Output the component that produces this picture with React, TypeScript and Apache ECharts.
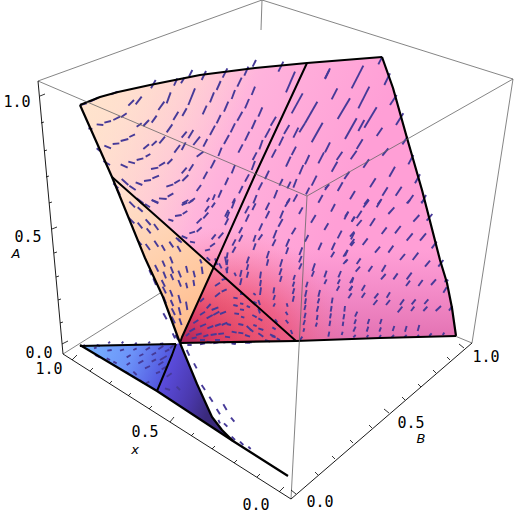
import React, { useEffect, useRef } from "react";
import * as echarts from "echarts";

type Pt = number[];

// Outlines of the surface (page pixels)
const topEdge: Pt[] = [[80,105],[100,97],[118,92],[150,85],[200,75],[255,68],[307,63],[382,57]];
const rightEdge: Pt[] = [[382,57],[393,88],[407,138],[422,190],[440,260],[447,283],[452,308],[456,336]];
const bottomEdge: Pt[] = [[456,336],[380,338],[296,341],[180,343]];
const leftEdge: Pt[] = [[180,343],[163,297],[145,258],[112,177],[80,105]];
const creaseDiagonal: Pt[] = [[112,177],[165,224],[203,258],[296,341]];
const creaseRidge: Pt[] = [[307,63],[255,175],[217,260],[182,337],[180,343]];
const wedgeFacet: Pt[] = [[112,177],[165,224],[203,258],[214,268],[182,337],[180,343],[163,297],[145,258]];
const redFacet: Pt[] = [[214,268],[296,341],[180,343],[182,337]];
const blueFacet: Pt[] = [[80,345],[176,344],[157,391]];
const darkFacet: Pt[] = [[157,391],[176,344],[180,343],[197,384],[212,417],[222,430],[233,441]];
const longEdge: Pt[] = [[80,345],[157,391],[233,441],[288,476]];
const blueTop: Pt[] = [[80,346],[176,344]];
const blueRidge: Pt[] = [[157,391],[172,355],[176,344]];
const darkEdge: Pt[] = [[180,343],[197,384],[212,417],[222,430],[233,441]];

// Box edges
const backEdges: Pt[][] = [
  [[38,81],[262,0]], [[262,0],[513,79]], [[262,0],[261,30]],
  [[513,79],[472,343]], [[63,354],[165,290]], [[472,343],[455,336]],
];
const frontEdges: Pt[][] = [
  [[38,81],[307,196]], [[513,79],[307,196]], [[307,196],[291,499]],
];
const axisEdges: Pt[][] = [
  [[38,81],[63,354]], [[63,354],[291,499]], [[291,499],[472,343]],
];

// Tick marks: [x1, y1, x2, y2]
const ticksA: number[][] = [
  [40,96,45,94],[41,123,44,122],[44,151,47,150],[46,177,49,176],[49,203,52,202],[52,229,57,227],
  [54,253,57,252],[56,277,59,276],[58,300,61,299],[60,323,63,322],[62,344,68,341],
];
const ticksX: number[][] = [
  [72,360,77,355],[90,371,93,368],[109,384,112,381],[128,396,131,393],[149,409,152,406],[170,422,174,417],
  [191,436,194,433],[212,449,215,446],[234,463,237,460],[257,477,260,474],[279,492,284,487],
];
const ticksB: number[][] = [
  [296,494,291,490],[318,475,315,472],[335,459,332,456],[353,443,350,440],[372,428,369,425],[389,413,384,409],
  [405,400,402,397],[421,387,418,384],[436,373,433,370],[450,360,447,357],[464,348,459,344],
];

// Tick and axis labels
const tickLabels: [string, number, number][] = [
  ["1.0",17,102],["0.5",28,237],["0.0",39,353],["1.0",49,369],["0.5",145,432],
  ["0.0",256,505],["0.0",320,502],["0.5",411,423],["1.0",486,357],
];
const axisLabels: [string, number, number][] = [["A",16,253],["x",135,449],["B",421,438]];

// Vector-field dashes, as seen in 3x crops: crop origin + [x1, y1, x2, y2] in crop pixels
const cropTopLeft: number[][] = [
  [15,150,35,145],[45,140,70,128],[108,118,128,110],[228,100,242,75],[297,92,307,70],[318,85,328,68],[342,65,352,45],
  [160,152,177,135],[182,148,200,125],[250,165,268,140],[275,145,287,112],[340,150,360,100],[295,195,310,170],[322,183,335,160],
  [275,232,292,208],[205,213,222,195],[230,203,245,182],[185,215,200,205],[65,208,85,210],[88,203,108,198],[115,195,135,185],
  [138,187,155,175],[40,220,52,222],[88,272,108,280],[113,267,133,265],[137,258,160,252],[163,246,180,238],[205,282,222,268],
  [230,272,245,258],[253,265,270,245],[320,248,335,230],[340,250,355,225],[298,293,315,270],[320,285,332,262],[355,270,375,245],
  [65,280,75,288],[85,318,105,330],[137,328,158,338],[160,320,180,325],[185,315,205,310],[212,305,226,297],[228,342,250,338],
  [252,333,270,322],[277,327,292,312],[320,355,335,338],[342,348,355,328],[365,305,385,290],[140,372,160,390],[163,392,182,405],
  [182,382,202,390],[207,378,228,375],[232,370,252,362],[274,395,295,388],[298,385,315,375],[322,378,340,360],[365,408,378,390],
  [115,385,130,400],[125,400,135,420],[230,435,250,445],[252,430,275,432],[278,425,295,415],[322,445,340,435],[345,440,360,430],
  [185,430,205,445],
];
const cropTopMid: number[][] = [
  [5,75,18,48],[68,68,82,40],[133,62,145,35],[158,35,168,15],[235,50,250,20],[375,70,388,45],[50,105,62,78],[112,95,125,68],
  [258,112,285,50],[95,132,105,105],[155,120,165,95],[30,142,42,112],[8,178,20,152],[72,170,85,140],[135,160,147,132],[50,205,62,180],
  [112,197,127,170],[175,185,187,157],[275,175,308,115],[315,205,352,140],[30,240,45,212],[92,232,105,205],[155,222,167,195],
  [212,212,228,185],[195,248,210,220],[252,237,268,210],[280,248,295,218],[298,232,315,205],[335,262,368,203],[10,275,22,252],
  [72,267,87,240],[135,257,148,230],[178,283,188,255],[237,272,250,245],[55,303,65,278],[115,293,128,268],[158,315,170,292],
  [215,308,228,283],[275,300,288,275],[258,335,272,305],[32,340,45,315],[95,355,105,330],[155,345,165,318],[315,328,328,300],
  [355,325,372,292],[10,372,22,350],[75,390,85,368],[135,380,147,358],[195,372,207,347],[298,358,310,330],[335,392,350,362],
  [238,392,248,372],[262,400,272,380],[280,398,290,372],[318,418,328,398],[375,400,388,388],[175,405,187,382],[117,415,128,393],
  [55,428,65,405],[38,435,45,418],[20,440,28,428],[222,430,232,405],[280,440,292,418],[355,443,368,420],[97,445,105,430],
  [160,445,170,420],[260,445,270,430],
];
const cropTopRight: number[][] = [
  [0,72,15,40],[80,100,115,32],[20,133,37,100],[100,160,133,95],[38,192,75,130],[160,28,172,5],[178,90,195,55],[195,150,215,120],
  [213,210,235,175],[118,218,155,157],[100,228,118,195],[60,252,95,190],[155,243,172,218],[232,268,248,245],[250,328,265,300],
  [270,385,285,358],[290,445,303,420],[0,292,15,262],[95,282,113,253],[77,313,95,287],[35,315,52,290],[20,350,37,320],
  [172,302,190,280],[115,338,132,313],[58,372,73,350],[193,365,210,335],[0,405,10,390],[38,408,53,382],[135,397,152,370],
  [172,422,188,397],[212,422,230,395],[248,445,265,420],[75,433,90,408],[118,448,130,432],[158,448,170,432],
];
const cropLowLeft: number[][] = [
  [88,5,105,22],[113,22,128,35],[85,52,103,70],[113,68,127,85],[137,58,152,75],[162,72,175,90],[140,85,152,100],[112,120,125,135],
  [137,132,150,150],[163,122,175,140],[185,135,195,152],[208,125,220,142],[232,138,242,155],[228,113,240,125],[187,182,195,200],
  [210,170,218,190],[165,195,175,215],[190,215,198,235],[212,200,220,220],[212,222,220,240],[235,212,243,232],[258,198,263,218],
  [280,212,285,232],[305,200,308,222],[300,178,305,190],[148,210,155,225],[160,235,168,255],[185,240,195,260],[235,240,243,260],
  [258,248,262,265],[280,240,283,258],[210,270,218,290],[188,260,198,280],[235,285,242,310],[212,300,220,318],[258,305,262,330],
  [190,290,198,310],[215,325,225,345],[236,322,242,345],[190,340,200,358],[238,355,245,375],[215,350,225,370],[218,400,225,415],
  [120,5,135,18],[155,0,175,8],[135,12,150,22],[245,15,262,8],[265,10,280,0],[225,48,245,45],[248,42,262,33],[205,58,220,63],
  [315,35,327,18],[335,22,345,8],[310,55,325,38],[290,70,305,55],[245,108,262,115],[268,100,285,95],[290,95,305,82],[270,125,285,128],
  [315,152,330,148],[335,118,347,103],[355,115,370,98],[330,140,345,130],[232,115,245,128],[380,55,388,35],[345,175,352,195],
  [375,170,380,195],[357,190,365,205],[378,205,382,220],[320,172,330,182],
  [345,258,360,248],[365,240,380,235],[300,305,312,295],[320,325,332,312],[345,290,360,278],[365,275,380,268],[335,330,355,322],
  [300,345,315,335],[320,355,338,345],[340,345,358,335],[360,342,378,335],[280,370,295,360],[300,380,318,372],[322,385,340,378],
  [345,378,362,372],[365,375,382,368],[268,395,285,385],[288,405,305,400],[310,410,325,405],[332,405,350,402],[355,402,372,400],
  [258,408,268,400],[275,415,290,412],[300,420,315,420],[345,420,360,420],[370,428,385,425],[320,425,335,428],
];
const cropLowMid: number[][] = [
  [20,25,30,0],[0,50,10,30],[60,40,72,18],[82,30,92,10],[122,30,133,8],[122,55,133,33],[62,65,72,43],[0,75,10,55],[42,100,52,82],
  [102,92,112,70],[165,55,175,32],[160,80,173,57],[180,20,193,0],[222,42,233,22],[200,103,212,83],[258,68,272,45],[318,35,330,12],
  [358,58,370,35],[298,90,310,70],[380,65,388,50],[338,115,350,92],[240,125,250,105],[145,115,155,90],[142,138,152,118],[100,120,112,103],
  [42,125,52,105],[22,137,32,118],[22,158,32,140],[85,125,92,105],[85,150,92,130],[183,140,193,117],[183,162,190,142],[223,165,232,142],
  [280,150,290,128],[320,150,330,128],[318,172,328,155],[355,170,368,150],[378,118,388,98],[378,138,388,125],[125,175,132,153],
  [125,197,130,178],[222,187,230,168],[222,208,230,190],[165,200,172,178],[163,225,170,205],[165,245,170,228],[65,190,72,170],
  [65,210,70,193],[65,233,70,215],[5,175,8,157],[5,195,8,178],[5,218,8,200],[45,230,50,210],[45,255,50,235],[28,218,33,228],
  [105,235,108,215],[105,258,108,240],[105,285,108,262],[262,213,270,190],[260,230,267,213],[298,232,305,212],[298,252,305,238],
  [340,232,348,213],[338,252,345,238],[335,272,343,258],[380,248,385,233],[375,272,382,258],[355,192,365,180],[205,240,210,225],
  [203,260,208,245],[203,282,208,265],[203,305,207,288],[243,262,248,245],[240,290,245,270],[240,312,243,295],[238,330,242,315],
  [238,355,242,338],[235,375,240,360],[235,395,238,385],[280,290,285,270],[278,310,283,295],[275,335,280,318],[275,360,278,345],
  [272,380,276,368],[320,310,323,293],[317,335,320,318],[315,355,318,340],[313,378,316,362],[310,410,313,395],[358,335,360,318],
  [355,358,358,342],[353,378,355,365],[350,405,353,395],[145,280,148,262],[145,300,150,285],[145,320,150,310],[185,310,188,320],
  [182,335,188,345],[182,360,190,370],[197,390,202,402],[225,420,232,410],[150,358,157,368],[142,382,152,388],[135,403,150,410],
  [85,280,92,285],[100,300,105,315],[100,325,105,340],[82,345,95,352],[100,355,112,362],[85,305,95,310],
  [25,293,38,295],[45,282,55,282],[25,315,38,318],[45,310,55,312],[28,340,42,342],[45,328,57,330],[48,350,58,353],[65,318,75,322],
  [5,372,18,375],[40,372,55,375],[65,378,80,392],[85,375,95,378],[100,385,115,390],[20,395,35,398],[40,398,55,400],[75,388,85,395],
  [60,405,75,410],[100,400,115,410],[140,408,152,412],[155,415,165,420],[0,410,15,412],[20,430,32,432],[60,428,75,428],[120,420,135,425],
];
const cropLowRight: number[][] = [
  [55,22,72,0],[95,22,108,0],[130,42,148,22],[185,10,195,0],[228,8,238,0],[205,65,223,45],[245,62,262,42],[0,50,10,35],[20,65,30,50],
  [35,55,50,32],[35,78,50,60],[75,78,90,55],[110,102,125,82],[150,100,167,78],[185,122,203,100],[225,122,243,100],[260,145,275,125],
  [15,110,28,95],[15,135,28,117],[53,135,68,115],[90,158,105,140],[130,158,145,137],[165,180,180,162],[203,180,220,158],[240,200,255,182],
  [280,200,295,180],[0,168,8,150],[0,188,8,178],[35,192,47,175],[32,215,45,200],[70,215,82,198],[110,215,122,195],[108,238,122,222],
  [145,238,158,220],[185,238,200,218],[183,258,195,242],[220,258,233,240],[258,255,273,238],[298,245,310,240],[295,278,305,262],
  [15,250,25,232],[12,272,22,258],[10,295,20,280],[50,272,60,255],[50,293,60,278],[88,295,100,280],[85,315,97,300],[125,293,135,277],
  [123,315,135,300],[165,315,177,298],[158,337,172,320],[200,313,212,298],[198,333,208,320],[238,312,250,298],[235,333,247,320],
  [272,333,288,318],[312,332,322,318],[30,350,37,335],[28,372,33,358],[25,395,32,380],[25,412,32,405],[68,372,73,357],[65,395,70,380],
  [65,412,70,405],[105,372,110,357],[103,395,108,382],[103,412,108,405],[143,393,148,378],[140,412,147,405],[180,395,185,378],
  [178,412,185,405],[218,393,223,375],[215,412,222,405],[253,408,260,400],[293,405,298,398],
];
const cropBlue: number[][] = [
  [35,50,45,45],[80,45,90,48],[115,40,120,35],[155,40,160,35],[195,43,200,38],[235,40,240,35],[270,42,280,40],[72,55,80,52],
  [112,62,125,60],[150,62,162,58],[190,60,200,55],[227,60,240,52],[265,58,280,48],[300,55,315,42],[75,75,90,82],[110,85,120,90],
  [130,95,140,100],[170,82,182,75],[208,78,220,72],[245,75,258,68],[285,65,298,58],[170,105,180,98],[205,100,220,92],[245,95,258,88],
  [270,90,290,78],[165,125,175,130],[190,125,200,135],[225,115,240,108],[265,105,280,95],[210,150,220,158],[228,160,238,155],
  [258,130,270,125],[275,118,290,110],[285,175,300,180],[290,140,305,130],[320,170,330,180],
];
const cropApex: number[][] = [
  [75,0,85,15],[110,45,118,62],[132,85,140,100],[155,150,165,165],[178,185,188,200],[200,222,210,238],[220,208,230,225],[243,248,253,260],
  [222,265,232,275],[245,305,255,315],[270,320,280,330],[295,335,302,342],[205,255,210,265],[112,30,125,30],[150,28,165,25],[190,25,205,22],
  [245,25,258,25],[290,22,305,22],
];

const fromCrop = (ox: number, oy: number, list: number[][]) =>
  list.map((s) => [ox + s[0] / 3, oy + s[1] / 3, ox + s[2] / 3, oy + s[3] / 3]);

const dashes: number[][] = [
  ...fromCrop(75, 55, cropTopLeft),
  ...fromCrop(200, 55, cropTopMid),
  ...fromCrop(325, 55, cropTopRight),
  ...fromCrop(100, 200, cropLowLeft),
  ...fromCrop(225, 200, cropLowMid),
  ...fromCrop(345, 200, cropLowRight),
  ...fromCrop(70, 330, cropBlue),
  ...fromCrop(150, 335, cropApex),
];

const surfaceOutline: Pt[] = [...topEdge, ...rightEdge.slice(1), ...bottomEdge.slice(1), ...leftEdge.slice(1)];

const linear = (x: number, y: number, x2: number, y2: number, stops: [number, string][]) =>
  new echarts.graphic.LinearGradient(x, y, x2, y2, stops.map(([offset, color]) => ({ offset, color })), true);
const radial = (x: number, y: number, r: number, stops: [number, string][]) =>
  new echarts.graphic.RadialGradient(x, y, r, stops.map(([offset, color]) => ({ offset, color })), true);

const segmentSeries = (name: string, data: number[][], stroke: string, lineWidth: number, z: number) => ({
  type: "custom", name, coordinateSystem: "cartesian2d", silent: true, clip: false, z, data,
  renderItem: (_: any, api: any) => {
    const a = api.coord([api.value(0), api.value(1)]);
    const b = api.coord([api.value(2), api.value(3)]);
    return { type: "line", shape: { x1: a[0], y1: a[1], x2: b[0], y2: b[1] }, style: { stroke, lineWidth, fill: null } };
  },
});

const edgeData = (edges: Pt[][]) => edges.map((e) => [e[0][0], e[0][1], e[1][0], e[1][1]]);

const polySeries = (name: string, polys: { pts: Pt[]; fill: any }[], z: number) => ({
  type: "custom", name, coordinateSystem: "cartesian2d", silent: true, clip: false, z,
  data: polys.map((_, i) => [i]),
  renderItem: (_: any, api: any) => {
    const p = polys[api.value(0)];
    return { type: "polygon", shape: { points: p.pts.map((q) => api.coord(q)) }, style: { fill: p.fill, stroke: null } };
  },
});

const lineSeries = (name: string, lines: Pt[][], lineWidth: number, z: number) => ({
  type: "custom", name, coordinateSystem: "cartesian2d", silent: true, clip: false, z,
  data: lines.map((_, i) => [i]),
  renderItem: (_: any, api: any) => ({
    type: "polyline",
    shape: { points: lines[api.value(0)].map((q) => api.coord(q)) },
    style: { stroke: "#000", lineWidth, fill: null, lineJoin: "round" },
  }),
});

const textSeries = (name: string, labels: [string, number, number][], font: string, z: number) => ({
  type: "custom", name, coordinateSystem: "cartesian2d", silent: true, clip: false, z,
  data: labels.map((l) => [l[1], l[2]]),
  renderItem: (params: any, api: any) => {
    const c = api.coord([api.value(0), api.value(1)]);
    return {
      type: "text", x: c[0], y: c[1],
      style: { text: labels[params.dataIndex][0], font, fill: "#000", align: "center", verticalAlign: "middle" },
    };
  },
});

export default function App() {
  const ref = useRef<HTMLDivElement>(null);
  useEffect(() => {
    const chart = echarts.init(ref.current!, undefined, { renderer: "svg" });
    chart.setOption({
      animation: false,
      backgroundColor: "#fff",
      grid: { left: 0, right: 0, top: 0, bottom: 0 },
      xAxis: { type: "value", min: 0, max: 515, show: false },
      yAxis: { type: "value", min: 0, max: 517, inverse: true, show: false },
      series: [
        segmentSeries("box back", edgeData(backEdges), "#666", 0.8, 1),
        polySeries("surface", [
          { pts: surfaceOutline, fill: linear(85, 110, 340, 215, [[0, "#ffeade"], [0.22, "#ffd0d8"], [0.55, "#ffb2dc"], [1, "#ff9fd6"]]) },
          { pts: surfaceOutline, fill: linear(0, 250, 0, 343, [[0, "rgba(215,90,170,0)"], [1, "rgba(205,80,150,0.6)"]]) },
          { pts: surfaceOutline, fill: radial(225, 352, 125, [[0, "rgba(215,40,80,0.9)"], [0.5, "rgba(240,75,100,0.6)"], [1, "rgba(250,120,150,0)"]]) },
          { pts: surfaceOutline, fill: linear(85, 150, 200, 200, [[0, "rgba(255,225,200,0.75)"], [1, "rgba(255,225,200,0)"]]) },
          { pts: wedgeFacet, fill: linear(120, 185, 205, 315, [[0, "#ffe0d0"], [0.55, "#ffd0ac"], [1, "#ffbe90"]]) },
          { pts: redFacet, fill: radial(182, 348, 110, [[0, "#a11f55"], [0.3, "rgba(217,58,98,0.85)"], [0.65, "rgba(240,95,110,0.35)"], [1, "rgba(245,110,130,0)"]]) },
          { pts: blueFacet, fill: linear(85, 345, 172, 380, [[0, "#78b4ff"], [0.5, "#6c92f8"], [1, "#4c46d8"]]) },
          { pts: darkFacet, fill: linear(165, 375, 215, 395, [[0, "#5a4cdc"], [0.6, "#4a38ac"], [1, "#3a2a7c"]]) },
        ], 2),
        segmentSeries("field", dashes, "#463a98", 1.9, 3),
        lineSeries("surface edges", [topEdge, rightEdge, bottomEdge, leftEdge, longEdge, blueTop, darkEdge], 2.2, 4),
        lineSeries("creases", [creaseDiagonal, creaseRidge, blueRidge], 2, 4),
        segmentSeries("box front", edgeData(frontEdges), "#666", 0.8, 5),
        segmentSeries("axes", edgeData(axisEdges), "#000", 0.9, 5),
        segmentSeries("ticks A", ticksA, "#000", 0.8, 5),
        segmentSeries("ticks x", ticksX, "#000", 0.8, 5),
        segmentSeries("ticks B", ticksB, "#000", 0.8, 5),
        textSeries("tick labels", tickLabels, '15px "DejaVu Sans Mono"', 6),
        textSeries("axis labels", axisLabels, 'italic 13px "DejaVu Sans"', 6),
      ],
    });
    return () => chart.dispose();
  }, []);
  return <div ref={ref} style={{ position: "absolute", left: 0, top: 0, width: 515, height: 517 }} />;
}
